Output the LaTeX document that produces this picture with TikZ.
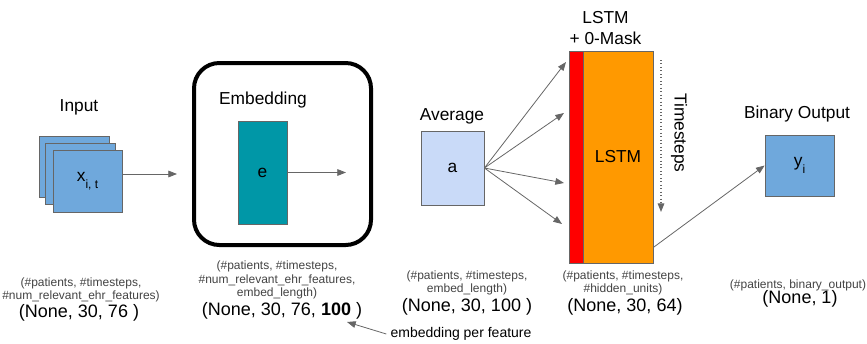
\documentclass[tikz,border=0pt]{standalone}
\usepackage{fontspec}
\setmainfont{Liberation Sans}
\usetikzlibrary{arrows.meta,positioning}

\definecolor{inblue}{HTML}{6FA8DC}
\definecolor{avgblue}{HTML}{C9DAF8}
\definecolor{embteal}{HTML}{0097A7}
\definecolor{lstmorange}{HTML}{FF9900}
\definecolor{maskred}{HTML}{FF0000}
\definecolor{edgegray}{HTML}{666666}
\definecolor{txtgray}{HTML}{434343}

\begin{document}
\begin{tikzpicture}[x=0.75pt, y=-0.75pt,
                box/.style={draw=edgegray, line width=0.6pt, inner sep=0pt,
                            font=\fontsize{13}{15}\selectfont},
                lbl/.style={font=\fontsize{13}{15.75}\selectfont, align=center},
                dims/.style={font=\fontsize{9}{9.9}\selectfont, text=txtgray, align=center, inner sep=1pt},
                big/.style={font=\fontsize{13.5}{16}\selectfont},
                arr/.style={-{Triangle[length=6.5pt,width=5pt]}, draw=edgegray, line width=0.6pt}
            ]
            \useasboundingbox (0,0) rectangle (867,343);

            % input stack
            \node[box, fill=inblue, minimum width=52.5pt, minimum height=45.75pt] (inB) at (74,166.5) {};
            \node[box, fill=inblue, minimum width=52.5pt, minimum height=45.75pt] (inM) at (80,173.5) {};
            \node[box, fill=inblue, minimum width=51.75pt, minimum height=46.5pt] (inX) at (87.5,181)
                {x\raisebox{-0.7ex}{\fontsize{9}{9}\selectfont i, t}};
            \node[lbl] (inLbl) at (79,107) {Input};
            \coordinate (embIn) at (177,174);
            \draw[arr] (inX.east |- embIn) -- (embIn);

            % embedding layer
            \node[draw=black, line width=3pt, rounded corners=19pt,
                  minimum width=132.75pt, minimum height=136.5pt] (emb) at (282.5,154) {};
            \node[lbl] (embLbl) at (263,100) {Embedding};
            \node[box, fill=embteal, minimum width=36.75pt, minimum height=77.25pt] (e) at (262.5,172.5) {e};
            \coordinate (embOut) at (346,172.5);
            \draw[arr] (e.east) -- (embOut);

            % average
            \node[lbl] (avgLbl) at (452,116) {Average};
            \node[box, fill=avgblue, minimum width=47.25pt, minimum height=55.5pt] (a) at (452.5,168) {a};
            \coordinate (t1) at (566,62);
            \coordinate (t2) at (564,113);
            \coordinate (t3) at (564,183);
            \coordinate (t4) at (562,224);
            \foreach \t in {t1,t2,t3,t4}
                \draw[arr] (a.east) -- (\t);

            % lstm with masking
            \node[lbl] (lstmLbl) at (605.5,28.5) {LSTM\\+ 0-Mask};
            \node[box, fill=maskred, minimum width=10.5pt, minimum height=159pt] (mask) at (576,157) {};
            \node[box, fill=lstmorange, minimum width=52.5pt, minimum height=159pt] (lstm) at (618,157) {LSTM};
            \coordinate (ts1) at (661,60);
            \coordinate (ts2) at (661,212);
            \draw[arr, dotted, line width=0.8pt] (ts1) -- (ts2);
            \node[lbl, rotate=-90] (tsLbl) at (679,133) {Timesteps};

            % output
            \node[lbl] (outLbl) at (797,114) {Binary Output};
            \node[box, fill=inblue, minimum width=51.75pt, minimum height=45.75pt] (y) at (799.5,165.5)
                {y\raisebox{-0.7ex}{\fontsize{9}{9}\selectfont i}};
            \draw[arr] ([yshift=12pt]lstm.south east) -- (y.west);

            % tensor shapes
            \node[dims] (inDim) at (81,289.5) {(\#patients, \#timesteps,\\\#num\_relevant\_ehr\_features)};
            \node[big] (inBig) at (79,313) {(None, 30, 76 )};
            \node[dims] (embDim) at (277,280) {(\#patients, \#timesteps,\\\#num\_relevant\_ehr\_features,\\embed\_length)};
            \node[big] (embBig) at (282,311) {(None, 30, 76, \textbf{100} )};
            \node[dims] (avgDim) at (467,282.5) {(\#patients, \#timesteps,\\embed\_length)};
            \node[big] (avgBig) at (467,307) {(None, 30, 100 )};
            \node[dims] (lstmDim) at (623,282.5) {(\#patients, \#timesteps,\\\#hidden\_units)};
            \node[big] (lstmBig) at (625,307) {(None, 30, 64)};
            \node[dims] (outDim) at (798,285) {(\#patients, binary\_output)};
            \node[big] (outBig) at (800,299) {(None, 1)};

            \node[font=\fontsize{10.5}{12}\selectfont, inner sep=1pt] (feat) at (461,334) {embedding per feature};
            \coordinate (featTip) at (347,322);
            \draw[arr] ([xshift=-2pt]feat.west) -- (featTip);
            \end{tikzpicture}
\end{document}
